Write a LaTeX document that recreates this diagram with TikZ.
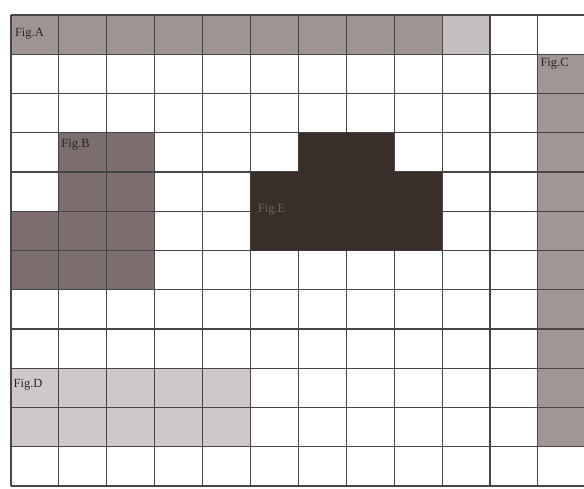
\documentclass[tikz,border=0pt]{standalone}
\usepackage{fontspec}
\setmainfont{Liberation Serif}
\definecolor{gA}{RGB}{158,148,148}
\definecolor{gAl}{RGB}{196,190,190}
\definecolor{gB}{RGB}{124,110,110}
\definecolor{gC}{RGB}{160,150,150}
\definecolor{gD}{RGB}{206,200,200}
\definecolor{gE}{RGB}{58,46,42}
\definecolor{gridc}{RGB}{70,70,70}
\tikzset{
  gridline/.style={draw=gridc, line width=1.1pt},
  figlabel/.style={font=\fontsize{12.5}{13}\selectfont, inner sep=0pt, text=black!85},
}
\begin{document}
\begin{tikzpicture}[x=47.9pt,y=-39.25pt]
  \fill[white] (-0.2296,-0.3822) rectangle (11.962,12.051);
  \useasboundingbox (-0.2296,-0.3822) rectangle (11.962,12.051);
  % Fig A
  \fill[gA] (0,0) rectangle (9,1);
  \fill[gAl] (9,0) rectangle (10,1);
  % Fig C
  \fill[gC] (11,1) rectangle (12,11);
  % Fig B
  \fill[gB] (1,3) rectangle (3,7);
  \fill[gB] (0,5) rectangle (1,7);
  % Fig D
  \fill[gD] (0,9) rectangle (5,11);
  % grid
  \foreach \i in {0,...,12} {
    \draw[gridline] (\i,0) -- (\i,12);
    \draw[gridline] (0,\i) -- (12,\i);
  }
  % dark figure (solid, over the grid)
  \fill[gE] (6,3) -- (8,3) -- (8,4) -- (9,4) -- (9,6) -- (5,6) -- (5,4) -- (6,4) -- cycle;
  % labels
  \node[figlabel, anchor=west] (la) at (0.08,0.48) {Fig.A};
  \node[figlabel, anchor=north west] (lc) at (11.05,1.1) {Fig.C};
  \node[figlabel, anchor=north west] (lb) at (1.05,3.15) {Fig.B};
  \node[figlabel, anchor=west, text=gE!75!white] (le) at (5.15,4.95) {Fig.E};
  \node[figlabel, anchor=west] (ld) at (0.05,9.42) {Fig.D};
\end{tikzpicture}
\end{document}
